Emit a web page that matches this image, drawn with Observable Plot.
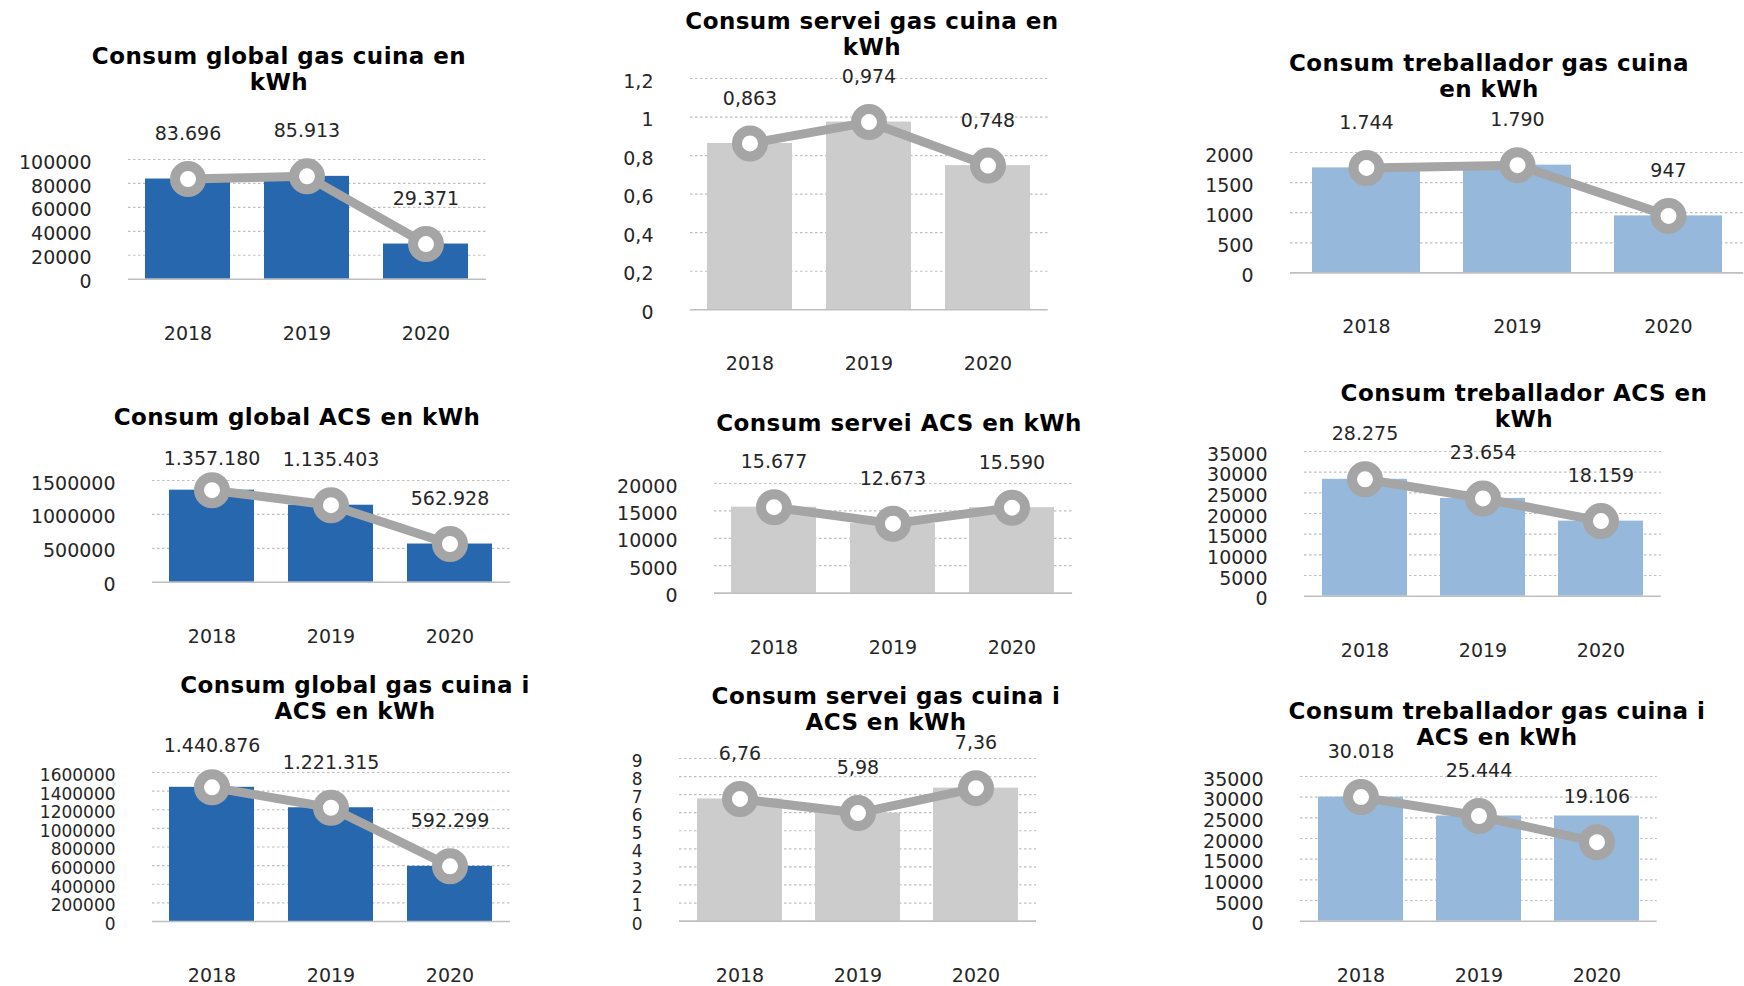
<!DOCTYPE html>
<html><head><meta charset="utf-8">
<script src="https://cdn.jsdelivr.net/npm/d3@7"></script>
<script src="https://cdn.jsdelivr.net/npm/@observablehq/plot@0.6"></script>
<style>
html,body{margin:0;padding:0;background:#fff;}
#root{position:relative;width:1744px;height:986px;overflow:hidden;background:#fff;}
</style></head><body><div id="root"></div>
<script>
// ---- data ----
const years = ["2018", "2019", "2020"];
const globalGasCuina = [83696, 85913, 29371];
const serveiGasCuina = [0.863, 0.974, 0.748];
const treballadorGasCuina = [1744, 1790, 947];
const globalACS = [1357180, 1135403, 562928];
const serveiACS = [15677, 12673, 15590];
const treballadorACS = [28275, 23654, 18159];
const globalTotal = [1440876, 1221315, 592299];
const serveiTotal = [6.76, 5.98, 7.36];
const treballadorTotal = [30018, 25444, 19106];
const treballadorTotalBars = [30018, 25444, 25444];

const titles = [
  ["Consum global gas cuina en", "kWh"],
  ["Consum servei gas cuina en", "kWh"],
  ["Consum treballador gas cuina", "en kWh"],
  ["Consum global ACS en kWh"],
  ["Consum servei ACS en kWh"],
  ["Consum treballador ACS en", "kWh"],
  ["Consum global gas cuina i", "ACS en kWh"],
  ["Consum servei gas cuina i", "ACS en kWh"],
  ["Consum treballador gas cuina i", "ACS en kWh"]
];
const yMaxes = [100000, 1.2, 2000, 1500000, 20000, 35000, 1600000, 9, 35000];
const ySteps = [20000, 0.2, 500, 500000, 5000, 5000, 200000, 1, 5000];

// ---- styles / layout ----
const darkBlue = "#2767ae", lightBlue = "#95b8db", gray = "#cccccc", lineGray = "#a5a5a5";
const loc = d3.formatLocale({decimal: ",", thousands: ".", grouping: [3], currency: ["", "€"]});
const fInt = loc.format(","), f3 = loc.format(",.3f"), f2 = loc.format(",.2f");

const panels = [
  {line: globalGasCuina, bars: globalGasCuina, color: darkBlue, fmt: fInt, x0: 127.6, x1: 485.7, yTop: 159.3, yBot: 279, tcx: 279, tb: 65},
  {line: serveiGasCuina, bars: serveiGasCuina, color: gray, fmt: f3, x0: 690.2, x1: 1048, yTop: 77.7, yBot: 309, tcx: 872, tb: 30},
  {line: treballadorGasCuina, bars: treballadorGasCuina, color: lightBlue, fmt: fInt, x0: 1290.3, x1: 1743.5, yTop: 152.3, yBot: 272.7, tcx: 1488.6, tb: 71.7},
  {line: globalACS, bars: globalACS, color: darkBlue, fmt: fInt, x0: 152.4, x1: 510.5, yTop: 480, yBot: 581.7, tcx: 297, tb: 425, cap: 21.7},
  {line: serveiACS, bars: serveiACS, color: gray, fmt: fInt, x0: 713.9, x1: 1072, yTop: 482.7, yBot: 592.3, tcx: 899, tb: 430.7},
  {line: treballadorACS, bars: treballadorACS, color: lightBlue, fmt: fInt, x0: 1304.1, x1: 1660.9, yTop: 451, yBot: 595.7, tcx: 1523.9, tb: 402.3},
  {line: globalTotal, bars: globalTotal, color: darkBlue, fmt: fInt, x0: 152.4, x1: 510.5, yTop: 771.7, yBot: 920.7, tcx: 354.5, tb: 694, cap: 26.7, tickFs: 17},
  {line: serveiTotal, bars: serveiTotal, color: gray, fmt: f2, x0: 679.1, x1: 1036.1, yTop: 757.7, yBot: 920.3, tcx: 885.6, tb: 705, tickFs: 17},
  {line: treballadorTotal, bars: treballadorTotalBars, color: lightBlue, fmt: fInt, x0: 1300.4, x1: 1657.2, yTop: 776, yBot: 920.7, tcx: 1497, tb: 720}
];

const root = document.getElementById("root");
const FONT = "DejaVu Sans, sans-serif";
const FS = 19;
const TITLE_FS = 23, TITLE_LH = 25.5;

panels.forEach((p, k) => {
  const yMax = yMaxes[k], step = ySteps[k];
  const nT = Math.round(yMax / step);
  const ticks = d3.range(0, nT + 1).map(i => +(i * step).toFixed(6));
  const mL = 140, mR = p.x1 > 1700 ? 0 : 10, mT = 80, mB = 75;
  const width = mL + (p.x1 - p.x0) + mR;
  const height = mT + (p.yBot - p.yTop) + mB;
  const pxPerUnit = (p.yBot - p.yTop) / yMax;
  const capVal = p.cap == null ? Infinity : yMax + p.cap / pxPerUnit;
  const pad = p.x1 - p.x0 > 400 ? 0.287 : 0.282;
  const tfs = p.tickFs || FS;
  const pts = years.map((yr, i) => ({
    year: yr, value: p.line[i], bar: p.bars[i],
    ly: Math.min(p.line[i] + 45 / pxPerUnit, capVal)
  }));
  const chart = Plot.plot({
    width, height, marginLeft: mL, marginRight: mR, marginTop: mT, marginBottom: mB,
    style: {fontFamily: FONT, fontSize: FS + "px", color: "#262626", background: "transparent", overflow: "visible"},
    x: {domain: years, paddingInner: pad, paddingOuter: pad / 2},
    y: {domain: [0, yMax]},
    marks: [
      Plot.ruleY(ticks.filter(t => t > 0), {stroke: "#bfbfbf", strokeDasharray: "2.5,2.5", strokeWidth: 1.2}),
      Plot.barY(pts, {x: "year", y: "bar", fill: p.color}),
      Plot.ruleY([0], {stroke: "#bfbfbf", strokeWidth: 1.6}),
      Plot.axisY({ticks, tickSize: 0, tickPadding: 37, tickFormat: loc.format(""), fontSize: tfs, dy: 3, label: null}),
      Plot.axisX({tickSize: 0, tickPadding: 47, fontSize: FS, label: null}),
      Plot.line(pts, {x: "year", y: "value", stroke: lineGray, strokeWidth: 9}),
      Plot.dot(pts, {x: "year", y: "value", r: 13, stroke: lineGray, strokeWidth: 10, fill: "#fff"}),
      Plot.text(pts, {x: "year", y: "ly", text: d => p.fmt(d.value), fontSize: FS, fill: "#262626"})
    ]
  });
  chart.style.position = "absolute";
  chart.style.left = (p.x0 - mL) + "px";
  chart.style.top = (p.yTop - mT) + "px";
  root.appendChild(chart);

  // title: one SVG text per line, placed on its baseline
  const lines = titles[k];
  const base = lines.length > 1 ? p.tb - 1 : p.tb;
  const tsvg = d3.create("svg")
    .attr("width", 640).attr("height", 70)
    .style("position", "absolute")
    .style("left", (p.tcx - 320) + "px")
    .style("top", (base - 25) + "px")
    .style("overflow", "visible");
  lines.forEach((line, i) => {
    tsvg.append("text")
      .attr("x", 320).attr("y", 25 + i * TITLE_LH)
      .attr("text-anchor", "middle")
      .attr("font-family", FONT).attr("font-weight", "bold")
      .attr("font-size", TITLE_FS).attr("letter-spacing", 0.45)
      .attr("fill", "#000")
      .text(line);
  });
  root.appendChild(tsvg.node());
});
</script>
</body></html>
